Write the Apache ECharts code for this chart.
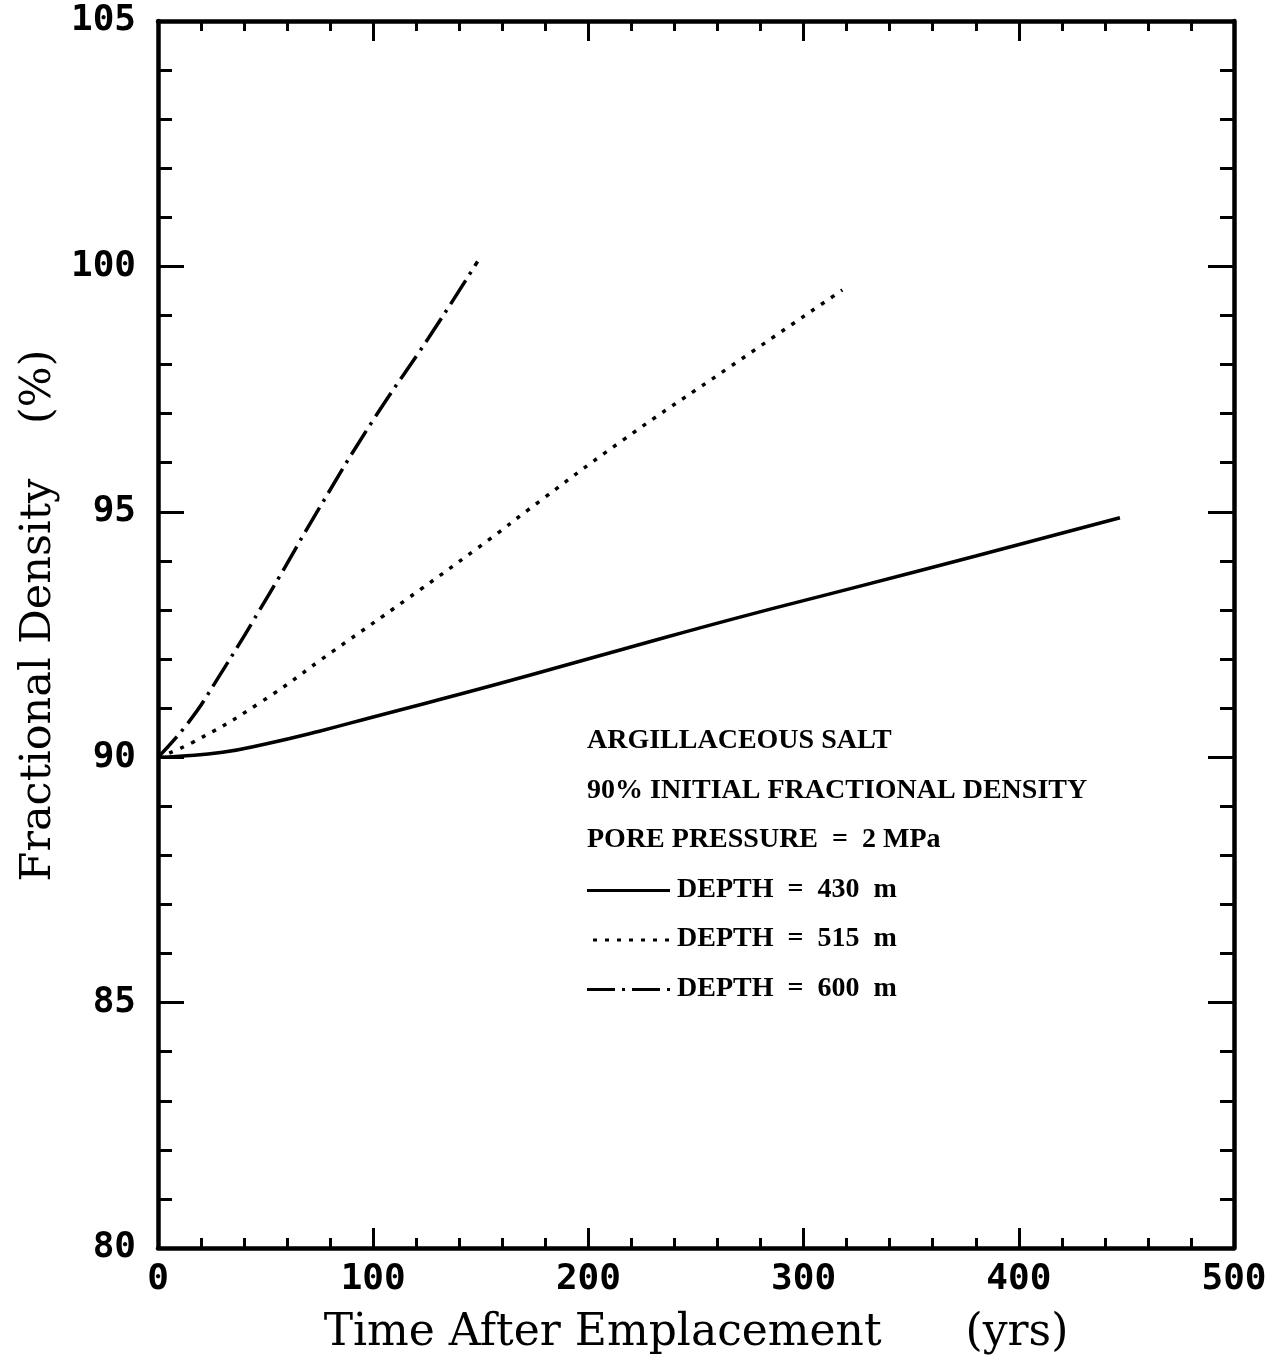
<!DOCTYPE html>
<html>
<head>
<meta charset="utf-8">
<script src="https://cdn.jsdelivr.net/npm/echarts@6/dist/echarts.min.js"></script>
<style>
  html, body { margin: 0; padding: 0; background: #fff; }
  #main { width: 1284px; height: 1361px; }
</style>
</head>
<body>
<div id="main"></div>
<script>
// 数据：时间(年) 与 相对密度(%)
const depth430X = [0, 10, 30, 50, 75, 100, 157, 216, 270, 324, 380, 447];
const depth430Y = [90, 90.02, 90.1, 90.27, 90.53, 90.82, 91.48, 92.2, 92.85, 93.46, 94.1, 94.88];

const depth515X = [0, 16, 47, 81, 115, 155, 172, 216, 265, 318];
const depth515Y = [90, 90.3, 91.1, 92.15, 93.2, 94.47, 95.04, 96.46, 97.93, 99.52];

const depth600X = [0, 14, 27, 52, 75, 100, 126, 148.5];
const depth600Y = [90, 90.7, 91.55, 93.35, 95.08, 96.87, 98.56, 100.1];

const xTicks = [0, 100, 200, 300, 400, 500];
const yTicks = [80, 85, 90, 95, 100, 105];

const legendLines = [
  'ARGILLACEOUS SALT',
  '90% INITIAL FRACTIONAL DENSITY',
  'PORE PRESSURE\u2002=\u20022 MPa',
];
const seriesNames = ['DEPTH\u2002=\u2002430\u2002m', 'DEPTH\u2002=\u2002515\u2002m', 'DEPTH\u2002=\u2002600\u2002m'];

function zip(xs, ys) {
  return xs.map((x, i) => [x, ys[i]]);
}

const tickFont = { fontFamily: 'DejaVu Sans Mono', fontWeight: 'bold', fontSize: 36, color: '#000' };
const boxLine = { show: true, onZero: false, lineStyle: { color: '#000', width: 4.5 } };

const chart = echarts.init(document.getElementById('main'));

// 坐标轴（四边框 + 向内刻度）
const xBase = {
  type: 'value',
  min: xTicks[0],
  max: xTicks[xTicks.length - 1],
  interval: 100,
  axisLine: boxLine,
  axisTick: { show: true, inside: true, length: 20, lineStyle: { color: '#000', width: 3 } },
  minorTick: { show: true, splitNumber: 5, length: 10, lineStyle: { color: '#000', width: 3 } },
  splitLine: { show: false },
};
const yBase = {
  type: 'value',
  min: yTicks[0],
  max: yTicks[yTicks.length - 1],
  interval: 5,
  axisLine: boxLine,
  axisTick: { show: true, inside: true, length: 26, lineStyle: { color: '#000', width: 3 } },
  minorTick: { show: true, splitNumber: 5, length: 14, lineStyle: { color: '#000', width: 3 } },
  splitLine: { show: false },
};

// 图例文字
const legendGraphics = [];
const lx = 587, ly0 = 742, lstep = 49.5;
const legendFont = 'bold 28px "Liberation Serif"';
legendLines.forEach((t, i) => {
  legendGraphics.push({
    type: 'text', left: lx, top: ly0 + i * lstep - 15,
    style: { text: t, font: legendFont, fill: '#000' },
  });
});
const sampleDash = [null, [4, 8], [28, 7, 3, 7]];
seriesNames.forEach((t, i) => {
  const y = ly0 + (i + 3) * lstep;
  legendGraphics.push({
    type: 'line',
    shape: { x1: lx + (i === 1 ? 6 : 0), y1: y, x2: 670, y2: y },
    style: { stroke: '#000', lineWidth: 3, lineDash: sampleDash[i] },
  });
  legendGraphics.push({
    type: 'text', left: 677, top: y - 15,
    style: { text: t, font: legendFont, fill: '#000' },
  });
});

const option = {
  backgroundColor: '#fff',
  animation: false,
  grid: { left: 158, right: 50, top: 21, bottom: 111 },
  xAxis: [
    Object.assign({}, xBase, {
      position: 'bottom',
      name: 'Time After Emplacement      (yrs)',
      nameLocation: 'middle',
      nameGap: 64,
      nameTextStyle: { fontFamily: 'DejaVu Serif', fontSize: 44, color: '#000' },
      axisLabel: Object.assign({ margin: 14 }, tickFont),
    }),
    Object.assign({}, xBase, { position: 'top', axisLabel: { show: false } }),
  ],
  yAxis: [
    Object.assign({}, yBase, {
      position: 'left',
      name: 'Fractional Density    (%)',
      nameLocation: 'middle',
      nameGap: 98,
      nameTextStyle: { fontFamily: 'DejaVu Serif', fontSize: 43, color: '#000', padding: [0, 0, 0, 38] },
      axisLabel: Object.assign({ margin: 22 }, tickFont),
    }),
    Object.assign({}, yBase, { position: 'right', axisLabel: { show: false } }),
  ],
  series: [
    {
      name: seriesNames[0], type: 'line', smooth: true, symbol: 'none',
      data: zip(depth430X, depth430Y),
      lineStyle: { color: '#000', width: 3.5 },
    },
    {
      name: seriesNames[1], type: 'line', smooth: true, symbol: 'none',
      data: zip(depth515X, depth515Y),
      lineStyle: { color: '#000', width: 3.5, type: [4, 8] },
    },
    {
      name: seriesNames[2], type: 'line', smooth: true, symbol: 'none',
      data: zip(depth600X, depth600Y),
      lineStyle: { color: '#000', width: 3.5, type: [28, 7, 3, 7] },
    },
  ],
  graphic: legendGraphics,
};
chart.setOption(option);
</script>
</body>
</html>
